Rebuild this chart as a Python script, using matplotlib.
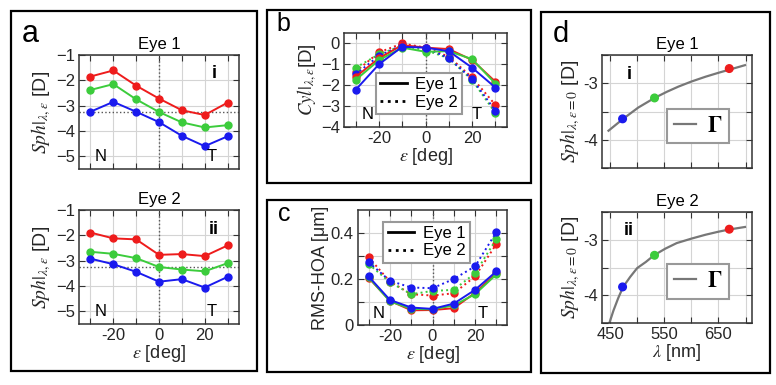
import numpy as np
import matplotlib.pyplot as plt
from matplotlib.patches import Rectangle
from matplotlib.lines import Line2D

plt.rcParams['font.family'] = ['Liberation Sans', 'DejaVu Sans']
plt.rcParams['mathtext.fontset'] = 'stix'

# eccentricity in degrees
ecc = [-30, -20, -10, 0, 10, 20, 30]

# panel a: sphere vs eccentricity
a1_red = [-1.85, -1.61, -2.21, -2.72, -3.18, -3.37, -2.88]
a1_green = [-2.38, -2.15, -2.75, -3.25, -3.66, -3.86, -3.77]
a1_blue = [-3.24, -2.85, -3.24, -3.65, -4.19, -4.60, -4.21]
a2_red = [-1.89, -2.12, -2.16, -2.77, -2.74, -2.82, -2.40]
a2_green = [-2.65, -2.73, -2.90, -3.25, -3.35, -3.42, -3.10]
a2_blue = [-2.92, -3.14, -3.44, -3.83, -3.73, -4.06, -3.64]

# panel b: cylinder
b1_red = [-1.60, -0.71, -0.08, -0.20, -0.27, -0.79, -1.83]
b1_green = [-1.75, -0.80, -0.20, -0.40, -0.37, -0.75, -1.92]
b1_blue = [-2.22, -1.00, -0.16, -0.20, -0.37, -1.16, -2.11]
b2_red = [-1.35, -0.43, 0.00, -0.20, -0.63, -1.63, -2.94]
b2_green = [-1.16, -0.52, -0.11, -0.32, -0.71, -1.75, -3.33]
b2_blue = [-1.48, -0.59, -0.08, -0.20, -0.71, -1.70, -3.22]

# panel c: RMS HOA
c1_red = [0.205, 0.105, 0.064, 0.065, 0.073, 0.140, 0.225]
c1_green = [0.207, 0.103, 0.070, 0.068, 0.085, 0.134, 0.220]
c1_blue = [0.211, 0.109, 0.076, 0.070, 0.093, 0.153, 0.233]
c2_red = [0.294, 0.189, 0.134, 0.128, 0.138, 0.211, 0.352]
c2_green = [0.265, 0.186, 0.134, 0.148, 0.153, 0.225, 0.374]
c2_blue = [0.273, 0.192, 0.163, 0.160, 0.200, 0.255, 0.404]

# panel d: sphere at fovea vs wavelength
wl = [473, 532, 670]
d1_pts = [-3.63, -3.26, -2.74]
d2_pts = [-3.85, -3.28, -2.81]
fit1_wl = [447, 474, 502, 532, 555, 576, 600, 626, 650, 670, 699]
fit1_val = [-3.84, -3.63, -3.43, -3.26, -3.15, -3.06, -2.97, -2.885, -2.815, -2.76, -2.68]
fit2_wl = [447, 456, 465, 474, 487, 500, 516, 531, 552, 573, 600, 626, 650, 670, 699]
fit2_val = [-4.55, -4.28, -4.05, -3.85, -3.67, -3.51, -3.40, -3.28, -3.16, -3.06,
            -2.98, -2.91, -2.855, -2.815, -2.77]

RED, GREEN, BLUE = '#ee1c1c', '#3ccc3c', '#1a1aee'
TXT = '#262626'

fig = plt.figure(figsize=(7.76, 3.85), dpi=100)
W, H = 776, 385


def box(x0, y0, x1, y1):
    # pixel box (top-left origin) -> figure axes
    return [x0 / W, (H - y1) / H, (x1 - x0) / W, (y1 - y0) / H]


def style(ax):
    ax.tick_params(direction='in', top=True, right=True, length=4, width=0.8,
                   labelsize=12, labelcolor=TXT, color='#333333', pad=3)
    for s in ax.spines.values():
        s.set_color('#333333')
        s.set_linewidth(1.1)
    ax.grid(True, color='#d4d4d4', linewidth=0.8)
    ax.set_axisbelow(True)


def ecc_axis(ax, labels=True):
    ax.set_xlim(-35, 35)
    ax.set_xticks(ecc)
    if labels:
        ax.set_xticklabels(['', '-20', '', '0', '', '20', ''])
        ax.set_xlabel(r'$\varepsilon$ [deg]', fontsize=13, color=TXT, labelpad=0)
    else:
        ax.set_xticklabels([])


def legend_frame(leg):
    leg.get_frame().set_edgecolor('#999999')
    leg.get_frame().set_linewidth(1.5)


kw = dict(marker='o', markersize=5, linewidth=1.4)

# ---- panel a
for i, (r, g, b, eye, tag, y0, y1) in enumerate([
        (a1_red, a1_green, a1_blue, 'Eye 1', 'i', 55, 169),
        (a2_red, a2_green, a2_blue, 'Eye 2', 'ii', 210, 324)]):
    ax = fig.add_axes(box(79, y0, 239, y1))
    style(ax)
    ax.axvline(0, color='#555555', linestyle=':', linewidth=1)
    ax.axhline(-3.25, color='#555555', linestyle=':', linewidth=1)
    ax.plot(ecc, r, color=RED, **kw)
    ax.plot(ecc, g, color=GREEN, **kw)
    ax.plot(ecc, b, color=BLUE, **kw)
    ax.set_ylim(-5.5, -1)
    ax.set_yticks([-5, -4, -3, -2, -1])
    ecc_axis(ax, labels=(i == 1))
    ax.set_title(eye, fontsize=12, pad=4)
    ax.set_ylabel(r'$Sph|_{\lambda,\varepsilon}$ [D]', fontsize=14, color=TXT, labelpad=2)
    ax.text(24, -1.75, tag, fontsize=13, fontweight='bold', ha='center', va='center')
    ax.text(-25.5, -5.0, 'N', fontsize=12, ha='center', va='center')
    ax.text(23, -5.0, 'T', fontsize=12, ha='center', va='center')

# ---- panel b
ax = fig.add_axes(box(344, 33, 507, 127))
style(ax)
ax.axvline(0, color='#555555', linestyle=':', linewidth=1)
for d, c in [(b2_red, RED), (b2_green, GREEN), (b2_blue, BLUE)]:
    ax.plot(ecc, d, color=c, linestyle=':', **kw)
for d, c in [(b1_red, RED), (b1_green, GREEN), (b1_blue, BLUE)]:
    ax.plot(ecc, d, color=c, **kw)
ax.set_ylim(-4, 0.5)
ax.set_yticks([-4, -3, -2, -1, 0])
ecc_axis(ax)
ax.set_ylabel(r'$Cyl|_{\lambda,\varepsilon}$[D]', fontsize=13.5, color=TXT, labelpad=1)
ax.text(-25, -3.4, 'N', fontsize=12, ha='center', va='center')
ax.text(22, -3.4, 'T', fontsize=12, ha='center', va='center')
h = [Line2D([], [], color='black', lw=2), Line2D([], [], color='black', lw=2, ls=':')]
leg = ax.legend(h, ['Eye 1', 'Eye 2'], loc='lower center', bbox_to_anchor=(0.46, 0.05),
                fontsize=12, handlelength=1.6, handletextpad=0.5, borderpad=0.25,
                labelspacing=0.15, fancybox=False, framealpha=1)
legend_frame(leg)

# ---- panel c
ax = fig.add_axes(box(358, 210, 507, 325))
style(ax)
ax.axvline(0, color='#555555', linestyle=':', linewidth=1)
for d, c in [(c2_red, RED), (c2_green, GREEN), (c2_blue, BLUE)]:
    ax.plot(ecc, d, color=c, linestyle=':', **kw)
for d, c in [(c1_red, RED), (c1_green, GREEN), (c1_blue, BLUE)]:
    ax.plot(ecc, d, color=c, **kw)
ax.set_ylim(0, 0.5)
ax.set_yticks([0, 0.1, 0.2, 0.3, 0.4])
ax.set_yticklabels(['0', '', '0.2', '', '0.4'])
ecc_axis(ax)
ax.set_ylabel('RMS-HOA [\u03bcm]', fontsize=13, color=TXT, labelpad=1)
ax.text(-25.3, 0.05, 'N', fontsize=12, ha='center', va='center')
ax.text(23.6, 0.05, 'T', fontsize=12, ha='center', va='center')
leg = ax.legend(h, ['Eye 1', 'Eye 2'], loc='upper center', bbox_to_anchor=(0.46, 0.97),
                fontsize=12, handlelength=1.6, handletextpad=0.5, borderpad=0.25,
                labelspacing=0.15, fancybox=False, framealpha=1)
legend_frame(leg)

# ---- panel d
for i, (pts, fw, fv, eye, tag, y0, y1) in enumerate([
        (d1_pts, fit1_wl, fit1_val, 'Eye 1', 'i', 55, 168),
        (d2_pts, fit2_wl, fit2_val, 'Eye 2', 'ii', 212, 323)]):
    ax = fig.add_axes(box(602, y0, 752, y1))
    style(ax)
    ax.plot(fw, fv, color='#777777', linewidth=1.6, label=r'$\mathbf{\Gamma}$')
    ax.scatter(wl, pts, color=[BLUE, GREEN, RED], s=30, zorder=3)
    ax.set_xlim(435, 712)
    ax.set_ylim(-4.5, -2.5)
    ax.set_xticks([450, 500, 550, 600, 650, 700])
    ax.set_yticks([-4.5, -4, -3.5, -3, -2.5])
    ax.set_yticklabels(['', '-4', '', '-3', ''])
    if i == 1:
        ax.set_xticklabels(['450', '', '550', '', '650', ''])
        ax.set_xlabel(r'$\lambda$ [nm]', fontsize=13, color=TXT, labelpad=0)
    else:
        ax.set_xticklabels([])
    ax.set_title(eye, fontsize=12, pad=4)
    ax.set_ylabel(r'$Sph|_{\lambda,\varepsilon=0}$ [D]', fontsize=14, color=TXT, labelpad=1)
    ax.text(0.18, 0.83, tag, transform=ax.transAxes, fontsize=13, fontweight='bold',
            ha='center', va='center')
    leg = ax.legend(loc='lower right', bbox_to_anchor=(0.92, 0.12), fontsize=16,
                    handlelength=1.0, handletextpad=0.5, borderpad=0.3,
                    fancybox=False, framealpha=1)
    legend_frame(leg)

# panel frames and letters
for (x0, y0, x1, y1) in [(11, 11, 257, 371), (267, 10, 531, 183),
                         (267, 200, 531, 372), (541, 12, 770, 373)]:
    fig.add_artist(Rectangle((x0 / W, (H - y1) / H), (x1 - x0) / W, (y1 - y0) / H,
                             transform=fig.transFigure, fill=False,
                             edgecolor='black', linewidth=1.6))
for lab, x, y, fs in [('a', 30, 34, 22), ('b', 283, 24, 18), ('c', 284, 214, 18), ('d', 561, 34, 21)]:
    fig.text(x / W, (H - y) / H, lab, fontsize=fs, ha='center', va='center')

fig.savefig('out.png', dpi=100)
